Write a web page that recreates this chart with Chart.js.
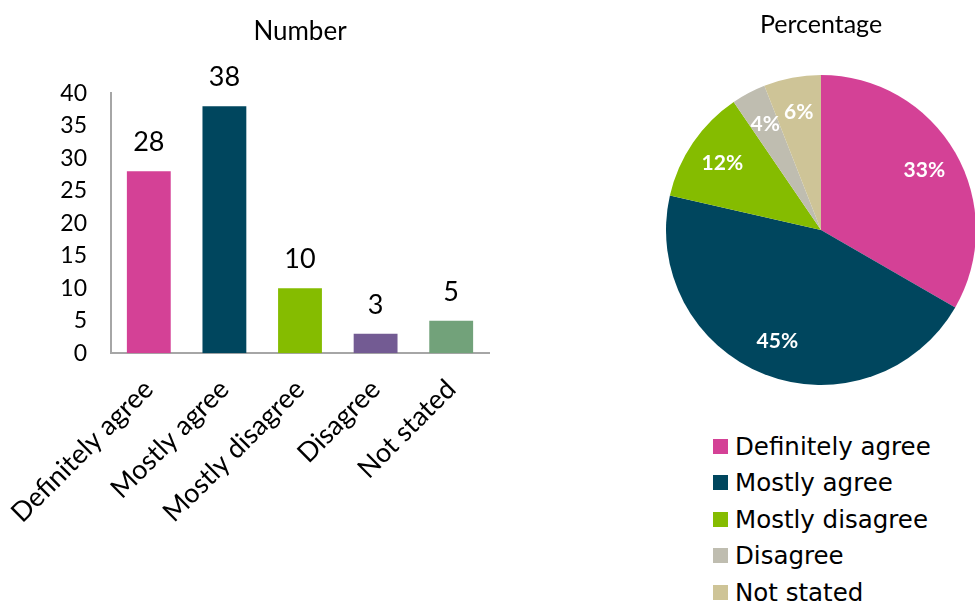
<!DOCTYPE html>
<html>
<head>
<meta charset="utf-8">
<title>Number and percentage of responses</title>
<script src="https://cdn.jsdelivr.net/npm/chart.js@4.4.0/dist/chart.umd.min.js"></script>
<style>
  html, body { margin: 0; padding: 0; background: #fff; overflow: hidden; }
  body { width: 975px; height: 606px; position: relative; }
  #barWrap { position: absolute; left: 0; top: 0; width: 560px; height: 606px; }
  #pieWrap { position: absolute; left: 656px; top: 0; width: 330px; height: 400px; }
  #pieLegend {
    position: absolute; left: 713px; top: 428px;
    font-family: "DejaVu Sans", sans-serif;
    font-size: 24.5px; color: #000;
  }
  #pieLegend .item { display: flex; align-items: center; height: 36.5px; white-space: nowrap; }
  #pieLegend .swatch { width: 15px; height: 15px; margin-right: 7px; flex: none; }
</style>
</head>
<body>
<div id="barWrap"><canvas id="barChart"></canvas></div>
<div id="pieWrap"><canvas id="pieChart"></canvas></div>
<div id="pieLegend"></div>

<script>
const categories = ['Definitely agree', 'Mostly agree', 'Mostly disagree', 'Disagree', 'Not stated'];
const counts = [28, 38, 10, 3, 5];
const yTickMax = 40;
const yTickStep = 5;

const barColors = ['#d44196', '#00465e', '#85bc00', '#735b93', '#72a27a'];
const pieColors = ['#d44196', '#00465e', '#85bc00', '#bfbdb0', '#cec497'];

const total = counts.reduce((a, b) => a + b, 0);
const percents = counts.map(v => Math.round(v / total * 100));

// value above each bar
const barValueLabels = {
    id: 'barValueLabels',
    afterDatasetsDraw(chart) {
        const ctx = chart.ctx;
        const meta = chart.getDatasetMeta(0);
        ctx.save();
        ctx.font = '27px Lato';
        ctx.fillStyle = '#000';
        ctx.textAlign = 'center';
        ctx.textBaseline = 'alphabetic';
        meta.data.forEach((bar, i) => {
            ctx.fillText(String(counts[i]), bar.x, bar.y - 20);
        });
        ctx.restore();
    }
};

// percentage inside each slice
const pieValueLabels = {
    id: 'pieValueLabels',
    afterDatasetsDraw(chart) {
        const ctx = chart.ctx;
        const meta = chart.getDatasetMeta(0);
        ctx.save();
        ctx.font = 'bold 21px Lato';
        ctx.fillStyle = '#fff';
        ctx.textAlign = 'center';
        ctx.textBaseline = 'middle';
        meta.data.forEach((arc, i) => {
            const mid = (arc.startAngle + arc.endAngle) / 2;
            const r = arc.outerRadius * 0.77;
            ctx.fillText(percents[i] + '%', arc.x + Math.cos(mid) * r, arc.y + Math.sin(mid) * r);
        });
        ctx.restore();
    }
};

var barChart = new Chart(document.getElementById('barChart').getContext('2d'), {
    type: 'bar',
    data: {
        labels: categories,
        datasets: [{
            data: counts,
            backgroundColor: barColors,
            borderWidth: 0,
            barPercentage: 0.58,
            categoryPercentage: 1.0,
        }],
    },
    options: {
        responsive: true,
        maintainAspectRatio: false,
        animation: false,
        layout: { padding: { left: 4, right: 71, top: 10, bottom: 57 } },
        plugins: {
            legend: { display: false },
            tooltip: { enabled: false },
            title: {
                display: true,
                text: 'Number',
                fullSize: false,
                color: '#000',
                font: { family: 'Lato', size: 26, weight: 'normal' },
                padding: { top: 6, bottom: 46 },
            },
        },
        scales: {
            x: {
                // the slanted first label may run into the left margin
                afterFit(scale) { scale.paddingLeft = Math.max(0, scale.paddingLeft - 30); },
                grid: { display: false, drawTicks: false },
                border: { display: true, color: '#a6a6a6', width: 2 },
                ticks: {
                    color: '#000',
                    font: { family: 'Lato', size: 27 },
                    maxRotation: 45,
                    minRotation: 45,
                    padding: 20,
                },
            },
            y: {
                min: 0,
                max: yTickMax,
                afterFit(scale) { scale.width = 107; },
                grid: { display: false, drawTicks: false },
                border: { display: true, color: '#a6a6a6', width: 2 },
                ticks: {
                    stepSize: yTickStep,
                    color: '#000',
                    font: { family: 'Lato', size: 23 },
                    padding: 24,
                },
            },
        },
    },
    plugins: [barValueLabels],
});

var pieChart = new Chart(document.getElementById('pieChart').getContext('2d'), {
    type: 'pie',
    data: {
        labels: categories,
        datasets: [{
            data: counts,
            backgroundColor: pieColors,
            borderWidth: 0,
        }],
    },
    options: {
        responsive: true,
        maintainAspectRatio: false,
        animation: false,
        layout: { padding: { left: 10, right: 10, top: 0, bottom: 15 } },
        plugins: {
            legend: { display: false },
            tooltip: { enabled: false },
            title: {
                display: true,
                text: 'Percentage',
                color: '#000',
                font: { family: 'Lato', size: 25, weight: 'normal' },
                padding: { top: 10, bottom: 35 },
            },
        },
    },
    plugins: [pieValueLabels],
});

// legend column under the pie
const legendBox = document.getElementById('pieLegend');
categories.forEach((name, i) => {
    const item = document.createElement('div');
    item.className = 'item';
    const sw = document.createElement('span');
    sw.className = 'swatch';
    sw.style.background = pieColors[i];
    const txt = document.createElement('span');
    txt.textContent = name;
    item.appendChild(sw);
    item.appendChild(txt);
    legendBox.appendChild(item);
});
</script>
</body>
</html>
